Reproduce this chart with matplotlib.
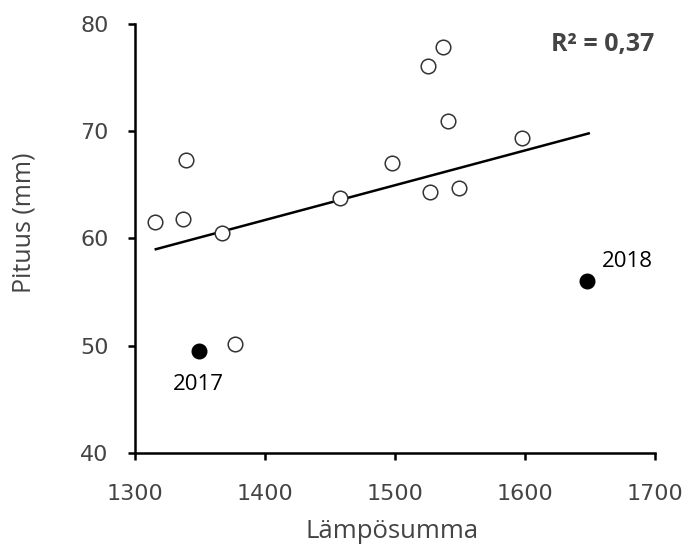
import matplotlib.pyplot as plt

# Open circles (other years)
open_x = [1315, 1337, 1339, 1367, 1377, 1458, 1498, 1525, 1537, 1541, 1527, 1549, 1598]
open_y = [61.5, 61.8, 67.3, 60.5, 50.2, 63.8, 67.0, 76.1, 77.9, 71.0, 64.3, 64.7, 69.4]

# Highlighted years
year_x = [1349, 1648]
year_y = [49.5, 56.0]
year_labels = ["2017", "2018"]

# Trend line end points
fit_x = [1316, 1649]
fit_y = [59.0, 69.8]

r2_text = "R² = 0,37"

fig = plt.figure(figsize=(6.87, 5.47), dpi=100)
ax = fig.add_axes([135 / 687, 94 / 547, 520 / 687, 429 / 547])

ax.plot(fit_x, fit_y, color="black", lw=1.8, zorder=2)
ax.plot(open_x, open_y, "o", ms=10.5, mfc="white", mec="#333333", mew=1.1, zorder=3)
ax.plot(year_x, year_y, "o", ms=10.5, color="black", zorder=3)

ax.annotate(year_labels[0], (year_x[0], year_y[0]), xytext=(0, -24), textcoords="offset points",
            ha="center", va="center", fontsize=16, family="Open Sans")
ax.annotate(year_labels[1], (year_x[1], year_y[1]), xytext=(29, 14), textcoords="offset points",
            ha="center", va="center", fontsize=16, family="Open Sans")

ax.text((603 - 135) / 520, (453 - 44) / 429, r2_text, transform=ax.transAxes, ha="center", va="center",
        fontsize=18, fontweight="bold", color="#444444", family="Open Sans")

ax.set_xlim(1300, 1700)
ax.set_ylim(40, 80)
ax.set_xticks([1300, 1400, 1500, 1600, 1700])
ax.set_yticks([40, 50, 60, 70, 80])

for s in ["top", "right"]:
    ax.spines[s].set_visible(False)
for s in ["left", "bottom"]:
    ax.spines[s].set_linewidth(1.8)

ax.tick_params(direction="out", length=5, width=1.8, labelsize=16, labelcolor="#444444")
ax.tick_params(axis="x", pad=17)
ax.tick_params(axis="y", pad=14)

ax.set_xlabel("Lämpösumma", fontsize=18.5, color="#444444", family="Open Sans", va="center")
ax.set_ylabel("Pituus (mm)", fontsize=18, color="#444444", family="Open Sans", va="center")
ax.xaxis.set_label_coords((392 - 135) / 520, (453 - 531) / 429)
ax.yaxis.set_label_coords((24 - 135) / 520, (453 - 223) / 429)

fig.savefig("out.png", dpi=100)
